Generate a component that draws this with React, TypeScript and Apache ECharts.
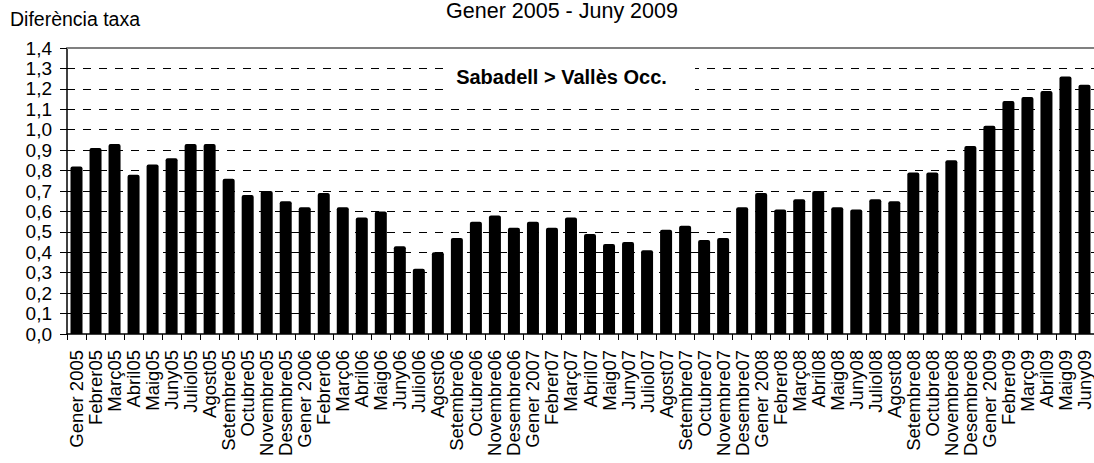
import React, { useEffect, useRef } from "react";
import * as echarts from "echarts";

const categories: string[] = [
  "Gener 2005", "Febrer05", "Març05", "Abril05", "Maig05", "Juny05", "Juliol05", "Agost05", "Setembre05", "Octubre05", "Novembre05", "Desembre05",
  "Gener 2006", "Febrer06", "Març06", "Abril06", "Maig06", "Juny06", "Juliol06", "Agost06", "Setembre06", "Octubre06", "Novembre06", "Desembre06",
  "Gener 2007", "Febrer07", "Març07", "Abril07", "Maig07", "Juny07", "Juliol07", "Agost07", "Setembre07", "Octubre07", "Novembre07", "Desembre07",
  "Gener 2008", "Febrer08", "Març08", "Abril08", "Maig08", "Juny08", "Juliol08", "Agost08", "Setembre08", "Octubre08", "Novembre08", "Desembre08",
  "Gener 2009", "Febrer09", "Març09", "Abril09", "Maig09", "Juny09",
];

const values2005: number[] = [0.82, 0.91, 0.93, 0.78, 0.83, 0.86, 0.93, 0.93, 0.76, 0.68, 0.70, 0.65];
const values2006: number[] = [0.62, 0.69, 0.62, 0.57, 0.60, 0.43, 0.32, 0.40, 0.47, 0.55, 0.58, 0.52];
const values2007: number[] = [0.55, 0.52, 0.57, 0.49, 0.44, 0.45, 0.41, 0.51, 0.53, 0.46, 0.47, 0.62];
const values2008: number[] = [0.69, 0.61, 0.66, 0.70, 0.62, 0.61, 0.66, 0.65, 0.79, 0.79, 0.85, 0.92];
const values2009: number[] = [1.02, 1.14, 1.16, 1.19, 1.26, 1.22];

const diffValues: number[] = [...values2005, ...values2006, ...values2007, ...values2008, ...values2009];

const titleText = "Gener 2005 - Juny 2009";
const yAxisTitle = "Diferència taxa";
const annotationText = "Sabadell > Vallès Occ.";

const FONT = "'Liberation Sans', Arial, Helvetica, sans-serif";

export default function App() {
  const ref = useRef<HTMLDivElement>(null);

  useEffect(() => {
    document.body.style.margin = "0";
    if (!ref.current) return;
    const chart = echarts.init(ref.current, undefined, { renderer: "svg" });
    chart.setOption({
      animation: false,
      backgroundColor: "#ffffff",
      textStyle: { fontFamily: FONT },
      grid: { left: 67, right: 0, top: 48, bottom: 129, containLabel: false },
      xAxis: [
        {
          type: "category",
          data: categories,
          position: "bottom",
          axisLine: { show: true, lineStyle: { color: "#000", width: 1.5 } },
          axisTick: { show: true, length: 6, lineStyle: { color: "#000", width: 1 } },
          axisLabel: {
            rotate: 90,
            interval: 0,
            margin: 16,
            fontSize: 18.5,
            color: "#000",
            fontFamily: FONT,
          },
          splitLine: { show: false },
        },
        {
          type: "category",
          data: categories,
          position: "top",
          axisLine: { show: true, lineStyle: { color: "#808080", width: 2 } },
          axisTick: { show: false },
          axisLabel: { show: false },
          splitLine: { show: false },
        },
      ],
      yAxis: {
        type: "value",
        min: 0,
        max: 1.4,
        interval: 0.1,
        axisLine: { show: true, lineStyle: { color: "#000", width: 1.5 } },
        axisTick: { show: true, inside: false, length: 7, lineStyle: { color: "#000", width: 1 } },
        axisLabel: {
          margin: 15,
          fontSize: 19,
          color: "#000",
          fontFamily: FONT,
          formatter: (v: number) => v.toFixed(1).replace(".", ","),
        },
        splitLine: {
          show: true,
          showMinLine: false,
          showMaxLine: false,
          lineStyle: { color: "#000", width: 1, type: [8, 8] },
        },
      },
      series: [
        {
          type: "bar",
          data: diffValues,
          xAxisIndex: 0,
          barWidth: 12,
          itemStyle: { color: "#000", borderRadius: [2, 2, 0, 0] },
        },
      ],
      graphic: [
        {
          type: "text",
          left: 10,
          top: 9,
          z: 100,
          style: { text: yAxisTitle, fontSize: 19.5, fill: "#000", fontFamily: FONT },
        },
        {
          type: "text",
          x: 562,
          y: 11,
          z: 100,
          style: {
            text: titleText,
            fontSize: 21.5,
            fill: "#000",
            fontFamily: FONT,
            textAlign: "center",
            textVerticalAlign: "middle",
          },
        },
        {
          type: "rect",
          z: 90,
          shape: { x: 445, y: 56, width: 250, height: 44 },
          style: { fill: "#ffffff" },
        },
        {
          type: "text",
          x: 561.5,
          y: 77,
          z: 100,
          style: {
            text: annotationText,
            fontSize: 20,
            fontWeight: "bold",
            fill: "#000",
            fontFamily: FONT,
            textAlign: "center",
            textVerticalAlign: "middle",
          },
        },
      ],
    });
    return () => chart.dispose();
  }, []);

  return <div ref={ref} style={{ width: 1094, height: 463 }} />;
}
